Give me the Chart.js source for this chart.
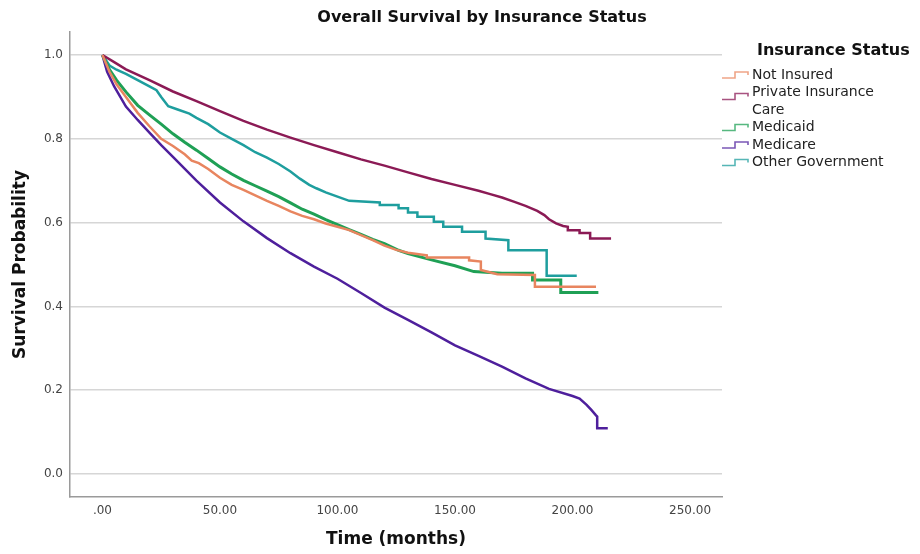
<!DOCTYPE html>
<html>
<head>
<meta charset="utf-8">
<title>Overall Survival by Insurance Status</title>
<script src="https://cdn.jsdelivr.net/npm/chart.js@4.4.0/dist/chart.umd.min.js"></script>
<style>
  html, body { margin: 0; padding: 0; background: #fff; }
</style>
</head>
<body>
<canvas id="km" width="920" height="554"></canvas>
<script>
// categories + colours
var groups = ['Not Insured', 'Private Insurance Care', 'Medicaid', 'Medicare', 'Other Government'];
var groupColors = ['#E8855F', '#8B1A55', '#1FA055', '#4E1F9C', '#1E9E9E'];

// axis ticks
var xTicks = [0, 50, 100, 150, 200, 250];
var yTicks = [0, 0.2, 0.4, 0.6, 0.8, 1.0];

// Kaplan-Meier curves (months, survival)
var notInsuredTime = [0, 3, 6, 10, 15, 20, 25, 30, 35, 38, 41, 45, 50, 55, 60, 65, 70, 75, 80, 85, 90, 95, 100, 105, 110, 115, 120, 125, 130, 138, 138, 156, 156, 161, 161, 168, 184, 184, 210];
var notInsuredSurv = [1.0, 0.96, 0.93, 0.90, 0.862, 0.83, 0.80, 0.783, 0.763, 0.748, 0.742, 0.728, 0.707, 0.69, 0.678, 0.665, 0.652, 0.64, 0.627, 0.616, 0.608, 0.598, 0.59, 0.582, 0.57, 0.558, 0.545, 0.535, 0.528, 0.522, 0.517, 0.517, 0.51, 0.507, 0.487, 0.477, 0.475, 0.447, 0.447];

var privateTime = [0, 5, 10, 20, 30, 40, 50, 60, 70, 80, 90, 100, 110, 120, 130, 140, 150, 160, 165, 170, 175, 180, 185, 188, 190, 193, 196, 198, 198, 203, 203, 207.5, 207.5, 216.4];
var privateSurv = [1.0, 0.983, 0.966, 0.94, 0.913, 0.89, 0.866, 0.843, 0.822, 0.803, 0.785, 0.768, 0.751, 0.736, 0.72, 0.704, 0.69, 0.676, 0.668, 0.66, 0.65, 0.64, 0.628, 0.618, 0.608, 0.598, 0.592, 0.59, 0.582, 0.582, 0.575, 0.575, 0.562, 0.562];

var medicaidTime = [0, 3, 6, 10, 15, 20, 25, 30, 35, 40, 45, 50, 55, 60, 65, 70, 75, 80, 85, 90, 95, 100, 105, 110, 115, 120, 126, 130, 140, 150, 158, 170, 183, 183, 195, 195, 211];
var medicaidSurv = [1.0, 0.965, 0.94, 0.912, 0.88, 0.857, 0.835, 0.812, 0.792, 0.773, 0.753, 0.733, 0.716, 0.701, 0.688, 0.675, 0.662, 0.647, 0.632, 0.62, 0.607, 0.595, 0.583, 0.572, 0.56, 0.55, 0.534, 0.526, 0.511, 0.497, 0.483, 0.479, 0.479, 0.463, 0.463, 0.433, 0.433];

var medicareTime = [0, 2, 5, 10, 15, 20, 25, 30, 40, 50, 60, 70, 80, 90, 100, 110, 120, 130, 140, 150, 160, 170, 180, 190, 200, 203, 206, 208, 210, 210.5, 210.5, 215];
var medicareSurv = [1.0, 0.96, 0.925, 0.877, 0.845, 0.815, 0.785, 0.757, 0.70, 0.648, 0.603, 0.563, 0.527, 0.495, 0.466, 0.432, 0.397, 0.368, 0.338, 0.307, 0.282, 0.256, 0.228, 0.203, 0.186, 0.18, 0.165, 0.153, 0.14, 0.137, 0.109, 0.109];

var otherTime = [0, 3, 6, 10, 15, 20, 23, 25, 28, 32, 37, 40, 45, 50, 55, 60, 65, 70, 75, 80, 84, 88, 91, 95, 100, 105, 118, 118, 126, 126, 130, 130, 134, 134, 141, 141, 145, 145, 153, 153, 163, 163, 172.7, 172.7, 189, 189, 201.8];
var otherSurv = [1.0, 0.975, 0.965, 0.955, 0.94, 0.925, 0.916, 0.9, 0.878, 0.87, 0.86, 0.85, 0.835, 0.815, 0.8, 0.785, 0.768, 0.755, 0.74, 0.722, 0.705, 0.69, 0.682, 0.672, 0.662, 0.652, 0.648, 0.642, 0.642, 0.634, 0.634, 0.624, 0.624, 0.614, 0.614, 0.602, 0.602, 0.59, 0.59, 0.578, 0.578, 0.562, 0.558, 0.534, 0.534, 0.473, 0.473];

var curveTimes = [notInsuredTime, privateTime, medicaidTime, medicareTime, otherTime];
var curveSurv = [notInsuredSurv, privateSurv, medicaidSurv, medicareSurv, otherSurv];

var FONT = "'DejaVu Sans', sans-serif";

function pairUp(t, s) {
  return t.map(function (v, i) { return { x: v, y: s[i] }; });
}

var datasets = groups.map(function (name, i) {
  return {
    label: name,
    data: pairUp(curveTimes[i], curveSurv[i]),
    borderColor: groupColors[i],
    borderWidth: i === 2 ? 3 : 2.5,
    pointRadius: 0,
    fill: false,
    tension: 0
  };
});

// title + step-shaped legend, drawn in the free space around the plot
var kmLegend = {
  id: 'kmLegend',
  afterDraw: function (chart) {
    var c = chart.ctx;
    c.save();
    c.fillStyle = '#111';
    c.textBaseline = 'middle';
    c.textAlign = 'center';
    c.font = 'bold 16px ' + FONT;
    c.fillText('Overall Survival by Insurance Status', 482, 18);

    c.textAlign = 'left';
    c.font = 'bold 16px ' + FONT;
    c.fillText('Insurance Status', 757, 51);

    c.font = '14px ' + FONT;
    var y = 75;
    var lineH = 17.5;
    chart.data.datasets.forEach(function (ds) {
      // wrap long labels
      var words = ds.label.split(' ');
      var lines = [];
      var cur = '';
      words.forEach(function (w) {
        var test = cur ? cur + ' ' + w : w;
        if (cur && c.measureText(test).width > 145) { lines.push(cur); cur = w; }
        else cur = test;
      });
      lines.push(cur);

      var iy = lines.length > 1 ? y + 4 : y;
      c.strokeStyle = ds.borderColor;
      c.globalAlpha = 0.75;
      c.lineWidth = 1.6;
      c.beginPath();
      c.moveTo(722, iy + 3);
      c.lineTo(735, iy + 3);
      c.lineTo(735, iy - 3);
      c.lineTo(748, iy - 3);
      c.lineTo(748, iy);
      c.stroke();
      c.globalAlpha = 1;

      c.fillStyle = '#222';
      lines.forEach(function (ln, k) {
        c.fillText(ln, 752, y + k * lineH);
      });
      y += lines.length * lineH;
    });
    c.restore();
  }
};

var ctx = document.getElementById('km').getContext('2d');
var chart = new Chart(ctx, {
  type: 'line',
  data: { datasets: datasets },
  options: {
    responsive: false,
    animation: false,
    layout: { padding: { top: 32, right: 198, left: 0, bottom: 0 } },
    plugins: {
      legend: { display: false },
      title: { display: false },
      tooltip: { enabled: false }
    },
    scales: {
      x: {
        type: 'linear',
        min: -13.8,
        max: 263.6,
        afterBuildTicks: function (s) { s.ticks = xTicks.map(function (v) { return { value: v }; }); },
        afterFit: function (s) { s.height = 57; },
        grid: { display: false, drawTicks: false },
        border: { display: true, color: '#9a9a9a', width: 1.5 },
        ticks: {
          padding: 7,
          color: '#444',
          font: { family: FONT, size: 12 },
          maxRotation: 0,
          callback: function (v) { return v.toFixed(2).replace(/^0/, ''); }
        },
        title: {
          display: true,
          text: 'Time (months)',
          color: '#111',
          font: { family: FONT, size: 17, weight: 'bold' },
          padding: { top: 0, bottom: 4 }
        }
      },
      y: {
        min: -0.055,
        max: 1.055,
        afterBuildTicks: function (s) { s.ticks = yTicks.map(function (v) { return { value: v }; }); },
        afterFit: function (s) { s.width = 70; },
        grid: { color: '#d6d6d6', lineWidth: 1.5, drawTicks: false },
        border: { display: true, color: '#9a9a9a', width: 1.5 },
        ticks: {
          padding: 7,
          color: '#444',
          font: { family: FONT, size: 12 },
          callback: function (v) { return v.toFixed(1); }
        },
        title: {
          display: true,
          text: 'Survival Probability',
          color: '#111',
          font: { family: FONT, size: 17, weight: 'bold' },
          padding: { top: 10, bottom: 0 }
        }
      }
    }
  },
  plugins: [kmLegend]
});
</script>
</body>
</html>
